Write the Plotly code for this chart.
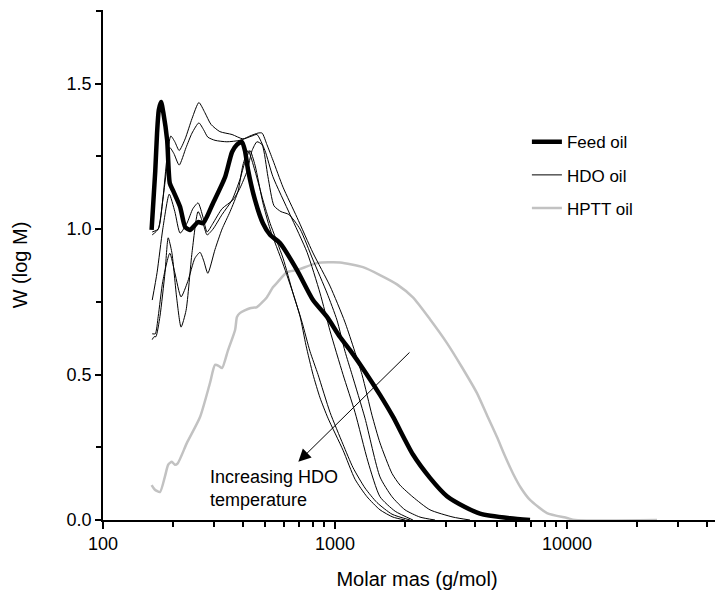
import numpy as np
import plotly.graph_objects as go

# ---------------- data (molar mass g/mol, W(log M)) ----------------
feed_M = [162, 168, 171, 174, 178, 182, 189, 194, 200, 215, 226, 237, 257, 270, 298, 336, 360, 378,
          397, 409, 422, 452, 489, 525, 579, 686, 804, 924, 1051, 1161, 1347, 1563, 1778, 2168, 2567,
          3039, 3633, 4217, 5680, 6928]
feed_W = [0.997, 1.20, 1.33, 1.41, 1.437, 1.40, 1.306, 1.158, 1.134, 1.076, 1.007, 0.997, 1.024, 1.02,
          1.089, 1.179, 1.265, 1.29, 1.30, 1.27, 1.203, 1.10, 1.02, 0.98, 0.952, 0.859, 0.756, 0.698,
          0.629, 0.584, 0.51, 0.43, 0.355, 0.225, 0.145, 0.082, 0.045, 0.022, 0.006, 0.0]

hdo1_M = [163, 173, 181, 189, 196, 204, 213, 226, 242, 259, 275, 292, 319, 360, 401, 430, 466, 485,
          509, 540, 597, 686, 804, 952, 1104, 1307, 1444, 1563, 1761, 1906, 2168, 2567, 3226, 3818]
hdo1_W = [0.99, 1.0, 1.1, 1.25, 1.32, 1.30, 1.27, 1.31, 1.38, 1.435, 1.40, 1.36, 1.335, 1.325, 1.31,
          1.32, 1.33, 1.33, 1.29, 1.237, 1.144, 1.04, 0.918, 0.804, 0.68, 0.5, 0.36, 0.265, 0.16, 0.12,
          0.079, 0.035, 0.01, 0.0]

hdo2_M = [163, 173, 181, 189, 194, 202, 213, 228, 242, 259, 272, 283, 304, 342, 389, 439, 461, 499,
          540, 640, 758, 862, 952, 1083, 1220, 1388, 1563, 1818, 2168]
hdo2_W = [0.98, 1.0, 1.1, 1.22, 1.28, 1.26, 1.22, 1.28, 1.33, 1.365, 1.34, 1.316, 1.305, 1.30, 1.305,
          1.32, 1.325, 1.27, 1.18, 1.05, 0.92, 0.78, 0.65, 0.5, 0.37, 0.2, 0.08, 0.03, 0.0]

hdo3_M = [163, 171, 181, 193, 204, 215, 230, 244, 257, 270, 281, 298, 326, 363, 389, 418, 439, 461,
          485, 514, 546, 585, 633, 707, 804, 924, 1020, 1104, 1184, 1347, 1563, 1761, 2003, 2325, 2698]
hdo3_W = [0.756, 0.85, 1.0, 1.12, 1.06, 0.986, 1.02, 1.07, 1.09, 1.04, 0.99, 1.02, 1.07, 1.10, 1.14,
          1.20, 1.27, 1.30, 1.29, 1.18, 1.08, 1.06, 1.05, 1.0, 0.894, 0.78, 0.687, 0.58, 0.5, 0.35,
          0.148, 0.08, 0.035, 0.01, 0.0]

hdo4_M = [163, 168, 173, 181, 194, 204, 217, 232, 249, 262, 272, 283, 304, 326, 353, 382, 401, 422,
          452, 489, 525, 597, 659, 721, 780, 845, 952, 1083, 1196, 1347, 1517, 1761, 2105]
hdo4_W = [0.64, 0.64, 0.70, 0.82, 0.917, 0.85, 0.767, 0.82, 0.90, 0.92, 0.89, 0.848, 0.93, 1.0, 1.06,
          1.13, 1.22, 1.27, 1.2, 1.1, 1.02, 0.90, 0.78, 0.68, 0.58, 0.5, 0.37, 0.26, 0.18, 0.11,
          0.06, 0.02, 0.0]

hdo5_M = [163, 166, 169, 176, 185, 191, 198, 208, 217, 228, 242, 257, 270, 281, 298, 326, 360, 389,
          409, 430, 452, 489, 525, 597, 659, 707, 750, 804, 862, 933, 1083, 1220, 1374, 1563, 1778, 2003]
hdo5_W = [0.62, 0.63, 0.63, 0.70, 0.85, 0.97, 0.92, 0.76, 0.663, 0.72, 0.92, 1.06, 1.02, 0.98, 1.0,
          1.05, 1.1, 1.17, 1.23, 1.27, 1.22, 1.09, 1.0, 0.88, 0.78, 0.70, 0.6, 0.5, 0.42, 0.35, 0.24,
          0.14, 0.08, 0.035, 0.01, 0.0]

hptt_M = [162, 167, 176, 185, 191, 198, 204, 210, 230, 262, 289, 304, 315, 326, 346, 371, 378, 389,
          430, 461, 509, 540, 562, 621, 686, 837, 1051, 1320, 1563, 1850, 2168, 2567, 3039, 3527,
          4093, 4521, 4992, 5404, 5851, 6334, 6928, 8199, 10000, 10830, 24430]
hptt_W = [0.12, 0.105, 0.096, 0.15, 0.19, 0.2, 0.19, 0.195, 0.265, 0.354, 0.47, 0.533, 0.53, 0.522,
          0.584, 0.653, 0.698, 0.711, 0.728, 0.732, 0.766, 0.80, 0.815, 0.852, 0.859, 0.883, 0.885,
          0.869, 0.842, 0.81, 0.765, 0.69, 0.608, 0.525, 0.436, 0.36, 0.285, 0.22, 0.16, 0.11,
          0.069, 0.024, 0.007, 0.0, 0.0]

arrow_start = (2126, 0.581)
arrow_tip = (695, 0.20)
note_pos = (283, 0.107)
note_text = "Increasing HDO<br>temperature"

x_title = "Molar mas (g/mol)"
y_title = "W (log M)"

FONT = "Liberation Sans, Arial, sans-serif"

fig = go.Figure()

fig.add_trace(go.Scatter(x=hptt_M, y=hptt_W, mode="lines", name="HPTT oil",
                         line=dict(color="#c2c2c2", width=2.5, shape="spline", smoothing=0.6),
                         legendrank=3, legendgroup="c"))
hdo_sets = [(hdo1_M, hdo1_W), (hdo2_M, hdo2_W), (hdo3_M, hdo3_W), (hdo4_M, hdo4_W), (hdo5_M, hdo5_W)]
for i, (m, w) in enumerate(hdo_sets):
    fig.add_trace(go.Scatter(x=m, y=w, mode="lines", name="HDO oil",
                             line=dict(color="black", width=1, shape="spline", smoothing=0.6),
                             showlegend=(i == 0), legendrank=2, legendgroup="b"))
fig.add_trace(go.Scatter(x=feed_M, y=feed_W, mode="lines", name="Feed oil",
                         line=dict(color="black", width=4.5, shape="spline", smoothing=0.6),
                         legendrank=1, legendgroup="a"))

fig.add_annotation(x=np.log10(arrow_tip[0]), y=arrow_tip[1], ax=np.log10(arrow_start[0]), ay=arrow_start[1],
                   xref="x", yref="y", axref="x", ayref="y", text="", showarrow=True,
                   arrowhead=2, arrowsize=2.5, arrowwidth=1, arrowcolor="black")
fig.add_annotation(x=np.log10(note_pos[0]), y=note_pos[1], xref="x", yref="y", text=note_text,
                   showarrow=False, xanchor="left", yanchor="middle", align="left",
                   font=dict(family=FONT, size=18, color="black"))

fig.update_layout(
    width=723, height=592,
    margin=dict(l=95, r=0, t=2, b=80),
    paper_bgcolor="white", plot_bgcolor="white",
    font=dict(family=FONT, size=16, color="black"),
    legend=dict(x=0.675, y=0.776, xanchor="left", yanchor="top", bgcolor="rgba(0,0,0,0)",
                font=dict(size=17), tracegroupgap=8),
)
fig.update_xaxes(type="log", range=[2, 4.707], dtick=1, tickformat="d", automargin=False,
                 showline=True, linecolor="black", linewidth=1.5, mirror=False,
                 ticks="outside", ticklen=7, tickwidth=1.5, tickcolor="black",
                 minor=dict(dtick="D1", ticks="outside", ticklen=5, tickwidth=1.5, tickcolor="black",
                            showgrid=False),
                 showgrid=False, zeroline=False,
                 title=dict(text=x_title, font=dict(size=20), standoff=19),
                 tickfont=dict(size=18))
fig.update_yaxes(range=[0, 1.753], dtick=0.5, tickformat=".1f", automargin=False,
                 showline=True, linecolor="black", linewidth=1.5,
                 ticks="outside", ticklen=6, tickwidth=1.5, tickcolor="black",
                 minor=dict(dtick=0.25, ticks="outside", ticklen=5, tickwidth=1.5, tickcolor="black",
                            showgrid=False),
                 showgrid=False, zeroline=False,
                 title=dict(text=y_title, font=dict(size=20), standoff=34),
                 tickfont=dict(size=18))

fig.write_html("out.html")
